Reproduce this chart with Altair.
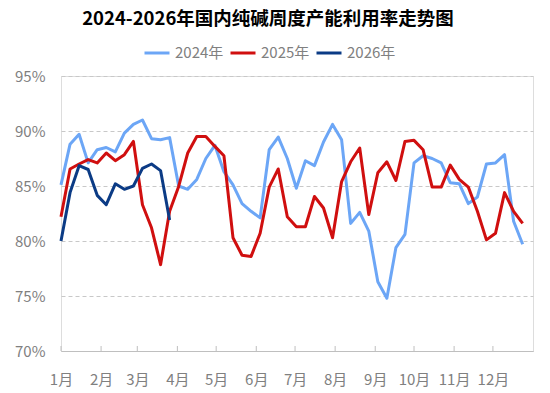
import altair as alt
import pandas as pd

title_text = "2024-2026年国内纯碱周度产能利用率走势图"
series_names = ["2024年", "2025年", "2026年"]
series_colors = ["#6CA6F6", "#D00F0F", "#0B3B85"]
month_labels = ["1月", "2月", "3月", "4月", "5月", "6月",
                "7月", "8月", "9月", "10月", "11月", "12月"]
month_starts = ["2025-01-01", "2025-02-01", "2025-03-01", "2025-04-01",
                "2025-05-01", "2025-06-01", "2025-07-01", "2025-08-01",
                "2025-09-01", "2025-10-01", "2025-11-01", "2025-12-01"]
y_ticks = [70, 75, 80, 85, 90, 95]

v2024 = [85.1, 88.8, 89.7, 87.1, 88.3, 88.5, 88.1, 89.8, 90.6, 91.0,
         89.3, 89.2, 89.4, 85.0, 84.7, 85.6, 87.5, 88.7, 86.3, 85.1,
         83.4, 82.7, 82.1, 88.3, 89.45, 87.5, 84.8, 87.3, 86.85, 89.0,
         90.6, 89.2, 81.6, 82.6, 80.9, 76.3, 74.8, 79.4, 80.6, 87.1,
         87.75, 87.5, 87.1, 85.3, 85.2, 83.4, 84.0, 87.0, 87.1, 87.85,
         81.8, 79.7]
v2025 = [82.2, 86.55, 87.0, 87.4, 87.1, 88.0, 87.3, 87.85, 89.05, 83.3,
         81.2, 77.85, 82.7, 84.96, 88.0, 89.5, 89.5, 88.6, 87.75, 80.3,
         78.7, 78.6, 80.7, 84.9, 86.55, 82.2, 81.3, 81.3, 84.05, 83.0,
         80.3, 85.4, 87.2, 88.45, 82.4, 86.2, 87.2, 85.5, 89.05, 89.15,
         88.3, 84.9, 84.9, 86.9, 85.6, 84.9, 82.7, 80.1, 80.7, 84.4,
         82.7, 81.6]
v2026 = [80.0, 84.4, 86.85, 86.5, 84.15, 83.3, 85.2, 84.7, 85.0, 86.6,
         87.0, 86.4, 81.9]

base = pd.Timestamp("2025-01-01")
rows = []
for name, vals in zip(series_names, [v2024, v2025, v2026]):
    for i, v in enumerate(vals):
        rows.append({"date": (base + pd.Timedelta(days=7 * i)).strftime("%Y-%m-%d"),
                     "year": name, "rate": v})
df = pd.DataFrame(rows)
ticks_df = pd.DataFrame({"date": month_starts})

FONT = "Noto Sans CJK SC"
GRAY = "#808080"
W, H = 472, 275

label_array = "[" + ",".join("'" + m + "'" for m in month_labels) + "]"

x_scale = alt.Scale(type="utc",
                    domain=[alt.DateTime(year=2025, month=1, date=1, utc=True),
                            alt.DateTime(year=2026, month=1, date=1, utc=True)])

lines = alt.Chart(df).mark_line(strokeWidth=3, strokeJoin="round").encode(
    x=alt.X("date:T", scale=x_scale,
            axis=alt.Axis(title=None,
                          values=[alt.DateTime(year=2025, month=m, date=1, utc=True) for m in range(1, 13)],
                          labelExpr=label_array + "[utcmonth(datum.value)]",
                          grid=False, ticks=False, domain=True,
                          domainColor="#BFBFBF", domainWidth=1,
                          labelFont=FONT, labelFontSize=15, labelColor=GRAY,
                          labelPadding=21, labelAngle=0,
                          labelAlign="center", labelFlush=False, labelOverlap=False)),
    y=alt.Y("rate:Q",
            scale=alt.Scale(domain=[70, 95], nice=False, zero=False),
            axis=alt.Axis(title=None, values=y_ticks,
                          labelExpr="datum.value + '%'",
                          grid=True, gridDash=[4, 3], gridColor="#C8C8C8", gridWidth=1,
                          ticks=False, domain=False,
                          labelFont=FONT, labelFontSize=15, labelColor=GRAY,
                          labelPadding=16)),
    color=alt.Color("year:N",
                    scale=alt.Scale(domain=series_names, range=series_colors),
                    legend=alt.Legend(title=None, orient="none", direction="horizontal",
                                      legendX=82, legendY=-37,
                                      symbolType="stroke", symbolSize=625,
                                      symbolStrokeWidth=3,
                                      labelFont=FONT, labelFontSize=15, labelColor=GRAY,
                                      labelOffset=4, columnPadding=0)),
)

tick_marks = alt.Chart(ticks_df).mark_rule(color="#BFBFBF", strokeWidth=1).encode(
    x=alt.X("date:T", scale=x_scale),
    y=alt.value(H - 5),
    y2=alt.value(H),
)

chart = alt.layer(lines, tick_marks).properties(
    width=W, height=H,
    title=alt.TitleParams(text=title_text, font=FONT, fontSize=18.5, fontWeight="bold",
                          color="#000000", anchor="middle", frame="group",
                          dx=-29, offset=11),
    padding={"left": 53, "top": 68, "right": 9, "bottom": 42},
    autosize=alt.AutoSizeParams(type="none"),
).configure_view(stroke=None).configure(background="white")

chart.save("out.html", embed_options={"renderer": "svg", "actions": False})
